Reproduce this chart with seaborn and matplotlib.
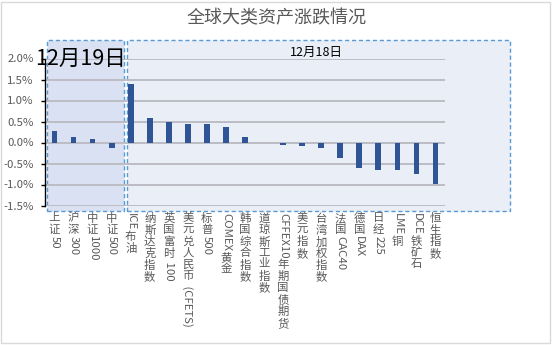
import matplotlib
matplotlib.use("Agg")
import matplotlib.pyplot as plt
import matplotlib.transforms as mtransforms
from matplotlib.patches import Rectangle
import seaborn as sns
import pandas as pd

categories = ["上证50", "沪深300", "中证1000", "中证500", "ICE布油", "纳斯达克指数",
              "英国富时 100", "美元兑人民币 (CFETS)", "标普500", "COMEX黄金", "韩国综合指数",
              "道琼斯工业指数", "CFFEX10年期国债期货", "美元指数", "台湾加权指数", "法国CAC40",
              "德国DAX", "日经225", "LME铜", "DCE铁矿石", "恒生指数"]
values = [0.27, 0.12, 0.09, -0.12, 1.39, 0.59, 0.50, 0.45, 0.45, 0.36, 0.12,
          0.0, -0.05, -0.08, -0.13, -0.37, -0.60, -0.65, -0.65, -0.74, -0.98]
yticks = [-1.5, -1.0, -0.5, 0.0, 0.5, 1.0, 1.5, 2.0]
title = "全球大类资产涨跌情况"
group_labels = ["12月19日", "12月18日"]

sns.set_theme(style="white")
plt.rcParams['font.family'] = ['Noto Sans CJK SC', 'DejaVu Sans']

W, H, DPI = 553, 345, 100
fig = plt.figure(figsize=(W / DPI, H / DPI), dpi=DPI)
fig.patch.set_facecolor("white")
ax = fig.add_axes([45 / W, 139.5 / H, 400 / W, 147 / H])
ax.set_facecolor("none")

# shaded date regions
ax.add_patch(Rectangle((3.8, -1.62), 20.1, 4.06, facecolor="#E9EEF7",
                       edgecolor="#5B9BD5", linestyle=(0, (3, 2)), linewidth=1,
                       clip_on=False, zorder=0.1))
ax.add_patch(Rectangle((-0.41, -1.62), 4.08, 4.06, facecolor="#D9E1F2",
                       edgecolor="#5B9BD5", linestyle=(0, (3, 2)), linewidth=1,
                       clip_on=False, zorder=0.2))

ax.set_xlim(-0.5, len(categories) - 0.5)
ax.set_ylim(-1.5, 2.0)
ax.hlines(yticks, -0.5, len(categories) - 0.5, colors="#BCBCC4",
          linewidth=1.4, zorder=2.5)

df = pd.DataFrame({"name": categories, "value": values})
sns.barplot(data=df, x="name", y="value", color="#2F5597", width=0.3,
            saturation=1, ax=ax, zorder=3, edgecolor="none", linewidth=0)

ax.set_xlim(-0.5, len(categories) - 0.5)
ax.set_ylim(-1.5, 2.0)
ax.set_yticks(yticks)
ax.set_yticklabels([f"{v:.1f}%" for v in yticks], color="#595959", fontsize=8.2)
ax.set_xticks([])
ax.set_xlabel("")
ax.set_ylabel("")
for s in ["top", "right", "bottom"]:
    ax.spines[s].set_visible(False)
ax.spines["left"].set_color("black")
ax.spines["left"].set_linewidth(1)
ax.spines["left"].set_zorder(4)
ax.tick_params(axis="y", which="major", left=True, length=3, width=1,
               color="black", pad=5)

ax.text(1.35, 1.99, group_labels[0], fontsize=15.5, color="black", ha="center",
        va="center", zorder=6)
ax.text(13.75, 2.15, group_labels[1], fontsize=9, color="black", ha="center",
        va="center", zorder=6)

fig.text(0.5, 1 - 18 / H, title, fontsize=13, color="#595959", ha="center", va="center")

# figure border
fig.add_artist(Rectangle((1 / W, 2 / H), 549 / W, 341 / H, transform=fig.transFigure,
                         fill=False, edgecolor="#D9D9D9", linewidth=1, zorder=-1))

# East-Asian style vertical tick labels
fig.canvas.draw()
renderer = fig.canvas.get_renderer()
fs = 8.2
fs_px = fs * DPI / 72
pad_px = 7.5


def is_cjk(c):
    return ord(c) >= 0x2E80


def runs(s):
    out = []
    for c in s:
        k = is_cjk(c)
        if out and out[-1][0] == k and not k:
            out[-1][1] += c
        else:
            out.append([k, c])
    return out


base = ax.get_xaxis_transform()
for i, lab in enumerate(categories):
    cursor = pad_px
    for cjk, seg in runs(lab):
        tr = mtransforms.offset_copy(base, fig=fig, x=0, y=-cursor * 72 / DPI, units="points")
        if cjk:
            ax.text(i, 0, seg, transform=tr, fontsize=fs, color="#595959",
                    ha="center", va="top", clip_on=False)
            cursor += fs_px * 1.02
        else:
            t = ax.text(i, 0, seg, transform=tr, fontsize=fs, color="#595959",
                        ha="center", va="top", rotation=-90, clip_on=False)
            bb = t.get_window_extent(renderer)
            cursor += bb.height + 1

fig.savefig("out.png", dpi=DPI)
